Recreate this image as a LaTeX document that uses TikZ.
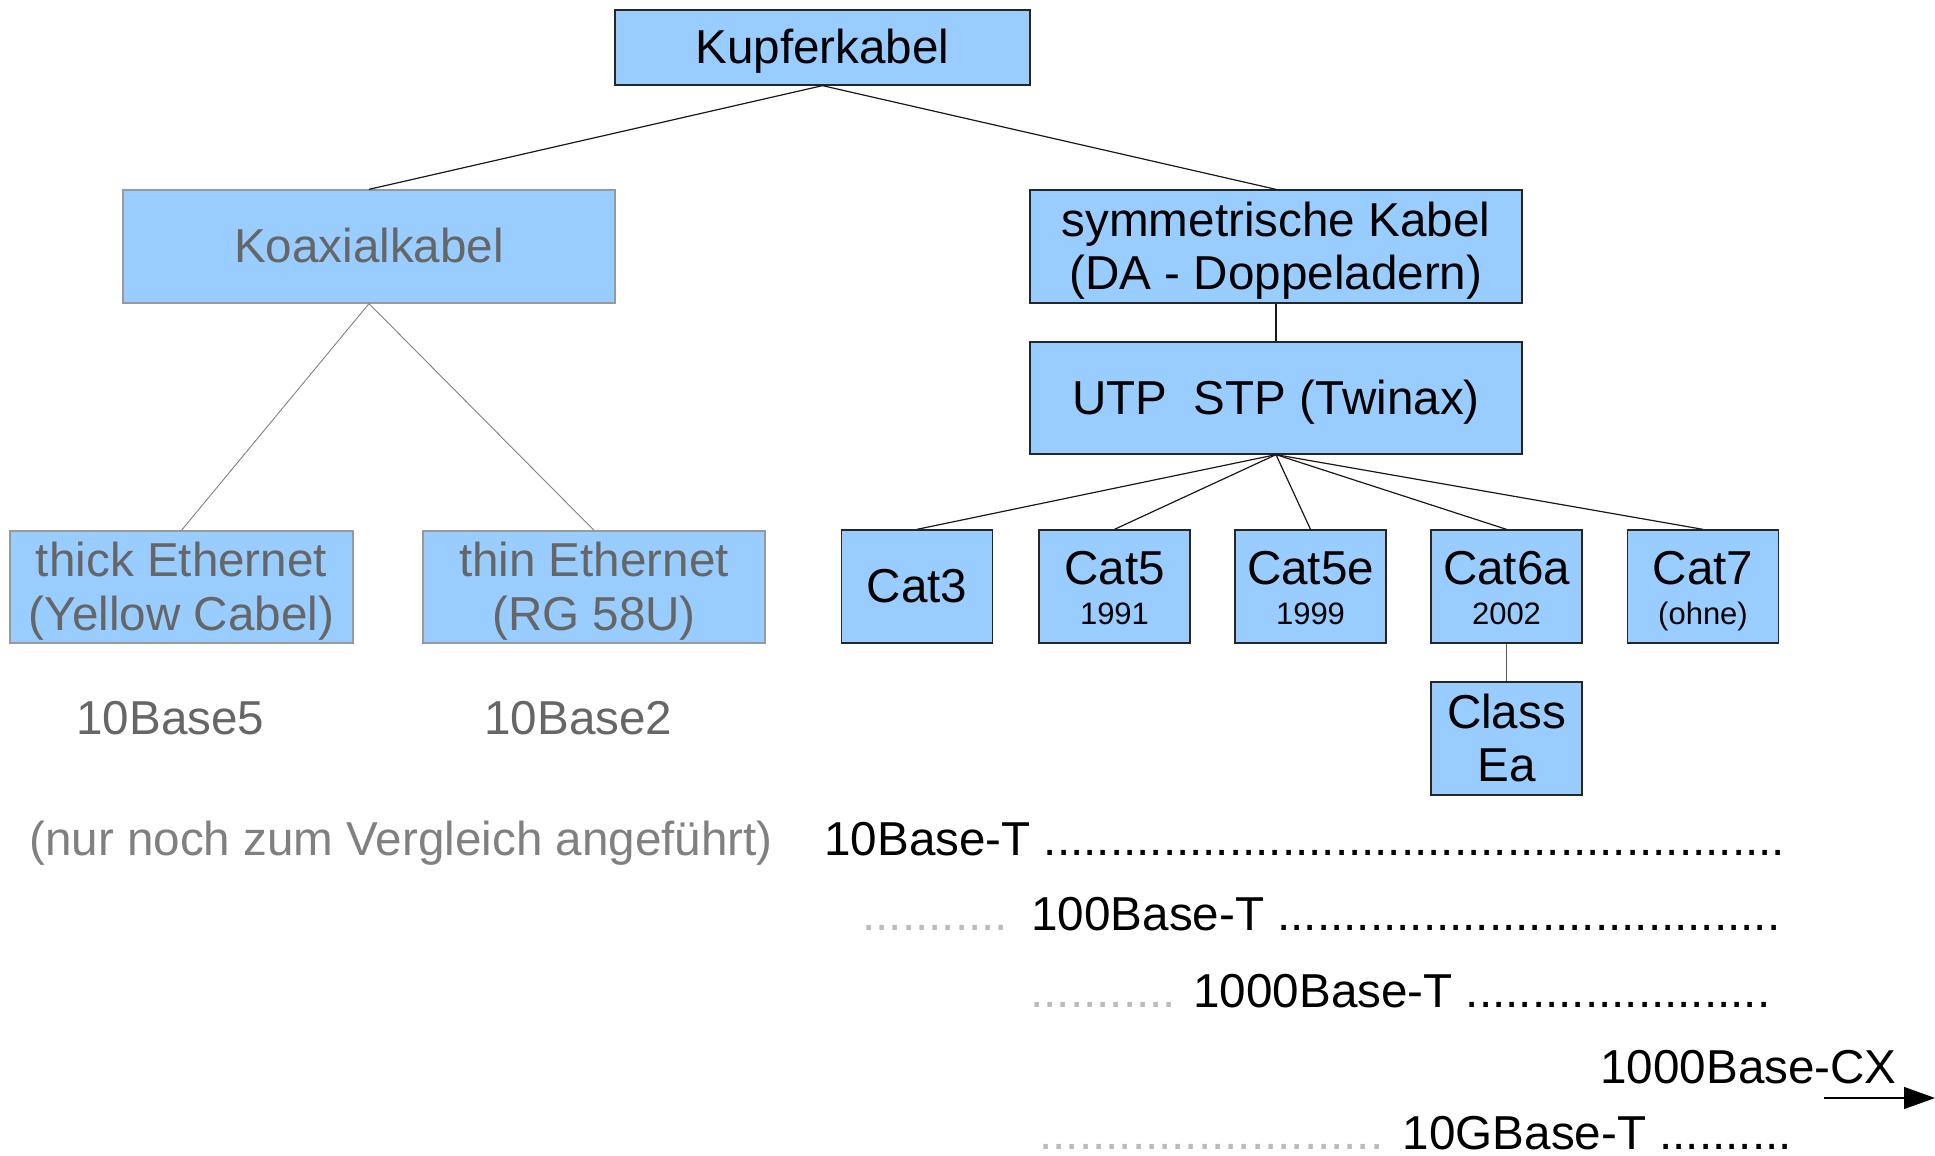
\documentclass[tikz,border=0pt]{standalone}
\usepackage{fontspec}
\setmainfont{Liberation Sans}
\usetikzlibrary{arrows.meta}
\definecolor{boxblue}{HTML}{99CCFF}
\definecolor{txtgray}{HTML}{666666}
\definecolor{notegray}{HTML}{808080}
\definecolor{dotgray}{HTML}{BBBBBB}
\definecolor{edgegray}{HTML}{999999}
\ExplSyntaxOn
\NewDocumentCommand\dotrow{m}{\prg_replicate:nn{#1}{.}}
\ExplSyntaxOff
\newcommand\bigfont{\fontsize{23.8pt}{26.6pt}\selectfont}
\newcommand\yearfont{\fontsize{15.5pt}{17.3pt}\selectfont}
% line strut with the ascent and descent of the font
\newcommand\ls{\rule[-0.212em]{0pt}{1.117em}}

\begin{document}
\begin{tikzpicture}[x=0.5pt,y=-0.5pt,
  box/.style={draw=black!85, line width=0.65pt, fill=boxblue, inner sep=0pt,
              align=center, font=\bigfont},
  oldbox/.style={box, draw=edgegray, text=txtgray},
  catbox/.style={box, minimum width=75.5pt, minimum height=56.5pt},
  rowtext/.style={inner sep=0pt, anchor=base west, font=\bigfont},
  link/.style={line width=0.6pt, draw=black!90},
  oldlink/.style={line width=0.45pt, draw=gray}]
\useasboundingbox (0,0) rectangle (1935,1156);

% top level
\node[box, minimum width=207.5pt, minimum height=37.5pt] (kupfer) at (822.5,47.5) {\ls Kupferkabel};

% coaxial branch
\node[oldbox, minimum width=246pt, minimum height=56.5pt] (koax) at (369,246.5) {\ls Koaxialkabel};
\node[oldbox, minimum width=171.5pt, minimum height=56pt] (thick) at (181.5,587) {\ls thick Ethernet\\\ls(Yellow Cabel)};
\node[oldbox, minimum width=171pt, minimum height=56pt] (thin) at (594,587) {\ls thin Ethernet\\\ls(RG 58U)};

% twisted pair branch
\node[box, minimum width=246pt, minimum height=56.5pt] (sym) at (1276,246.5) {\ls symmetrische Kabel\\\ls(DA - Doppeladern)};
\node[box, minimum width=246pt, minimum height=56pt] (utp) at (1276,398) {\ls UTP\ \ STP (Twinax)};

\node[catbox] (cat3) at (917,586.5) {\ls Cat3};
\node[catbox] (cat5) at (1114.5,586.5) {\ls Cat5\\[-6.6pt]\yearfont\ls 1991};
\node[catbox] (cat5e) at (1310.5,586.5) {\ls Cat5e\\[-6.6pt]\yearfont\ls 1999};
\node[catbox] (cat6a) at (1506.5,586.5) {\ls Cat6a\\[-6.6pt]\yearfont\ls 2002};
\node[catbox] (cat7) at (1703,586.5) {\ls Cat7\\[-6.6pt]\yearfont\ls (ohne)};
\node[catbox] (classea) at (1506.5,738.5) {\ls Class\\\ls Ea};

% connectors
\draw[link] (kupfer.south) -- (koax.north);
\draw[link] (kupfer.south) -- (sym.north);
\draw[oldlink] (koax.south) -- (thick.north);
\draw[oldlink] (koax.south) -- (thin.north);
\draw[link] (sym.south) -- (utp.north);
\foreach \c in {cat3,cat5,cat5e,cat6a,cat7}
  \draw[link] (utp.south) -- (\c.north);
\draw[link, draw=black!65] (cat6a.south) -- (classea.north);

% standards
\node[rowtext, text=txtgray] (b5) at (76,734) {10Base5};
\node[rowtext, text=txtgray] (b2) at (484,734) {10Base2};
\node[rowtext, text=notegray] (note) at (29,855) {(nur noch zum Vergleich angeführt)};

\node[rowtext] (r10) at (824,855) {10Base-T \dotrow{56}};
\node[rowtext] (r100) at (862,930) {\textcolor{dotgray}{\dotrow{11}}\hspace{3pt} 100Base-T \dotrow{38}};
\node[rowtext] (r1000) at (1030,1007) {\textcolor{dotgray}{\dotrow{11}} 1000Base-T \dotrow{23}};
\node[rowtext] (rcx) at (1600,1083) {1000Base-CX};
\node[rowtext] (r10g) at (1039,1149) {\textcolor{dotgray}{\dotrow{26}}\hspace{1pt} 10GBase-T \dotrow{10}};

\coordinate (cxa) at (1824,1098);
\coordinate (cxb) at (1935,1098);
\draw[line width=0.65pt, -{Triangle[length=15.5pt,width=11pt]}] (cxa) -- (cxb);
\end{tikzpicture}
\end{document}
